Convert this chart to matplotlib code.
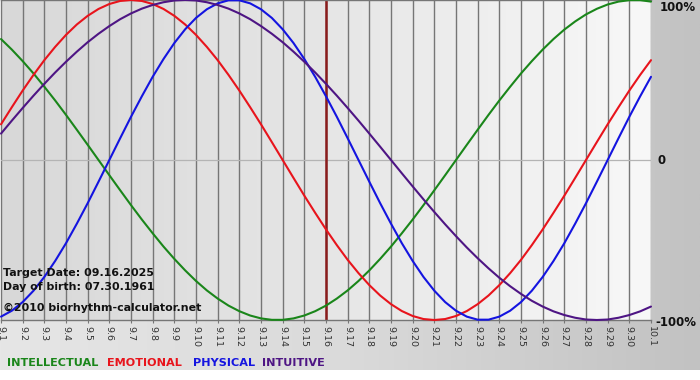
import numpy as np
import matplotlib
matplotlib.use("Agg")
import matplotlib.pyplot as plt
from matplotlib.colors import LinearSegmentedColormap
from matplotlib.transforms import blended_transform_factory

# ---- data (values sampled every half day from 9.1 to 10.1) ----
day_labels = ["9.%d" % d for d in range(1, 31)] + ["10.1"]

intellectual = [0.756, 0.690, 0.618, 0.541, 0.458, 0.372, 0.282, 0.189, 0.095, 0.000,
                -0.095, -0.189, -0.282, -0.372, -0.458, -0.541, -0.618, -0.690, -0.756, -0.815,
                -0.866, -0.910, -0.945, -0.972, -0.990, -0.999, -0.999, -0.990, -0.972, -0.945,
                -0.910, -0.866, -0.815, -0.756, -0.690, -0.618, -0.541, -0.458, -0.372, -0.282,
                -0.189, -0.095, 0.000, 0.095, 0.189, 0.282, 0.372, 0.458, 0.541, 0.618,
                0.690, 0.756, 0.815, 0.866, 0.910, 0.945, 0.972, 0.990, 0.999, 0.999, 0.990]

emotional = [0.223, 0.330, 0.434, 0.532, 0.624, 0.707, 0.782, 0.847, 0.901, 0.944,
             0.975, 0.994, 1.000, 0.994, 0.975, 0.944, 0.901, 0.847, 0.782, 0.707,
             0.624, 0.532, 0.434, 0.330, 0.223, 0.112, 0.000, -0.112, -0.223, -0.330,
             -0.434, -0.532, -0.624, -0.707, -0.782, -0.847, -0.901, -0.944, -0.975, -0.994,
             -1.000, -0.994, -0.975, -0.944, -0.901, -0.847, -0.782, -0.707, -0.624, -0.532,
             -0.434, -0.330, -0.223, -0.112, 0.000, 0.112, 0.223, 0.330, 0.434, 0.532, 0.624]

physical = [-0.979, -0.942, -0.888, -0.817, -0.731, -0.631, -0.520, -0.398, -0.270, -0.136,
            0.000, 0.136, 0.270, 0.398, 0.520, 0.631, 0.731, 0.817, 0.888, 0.942,
            0.979, 0.998, 0.998, 0.979, 0.942, 0.888, 0.817, 0.731, 0.631, 0.520,
            0.398, 0.270, 0.136, 0.000, -0.136, -0.270, -0.398, -0.520, -0.631, -0.731,
            -0.817, -0.888, -0.942, -0.979, -0.998, -0.998, -0.979, -0.942, -0.888, -0.817,
            -0.731, -0.631, -0.520, -0.398, -0.270, -0.136, 0.000, 0.136, 0.270, 0.398, 0.520]

intuitive = [0.165, 0.246, 0.325, 0.402, 0.476, 0.547, 0.614, 0.677, 0.736, 0.789,
             0.837, 0.880, 0.916, 0.946, 0.969, 0.986, 0.997, 1.000, 0.997, 0.986,
             0.969, 0.946, 0.916, 0.880, 0.837, 0.789, 0.736, 0.677, 0.614, 0.547,
             0.476, 0.402, 0.325, 0.246, 0.165, 0.083, 0.000, -0.083, -0.165, -0.246,
             -0.325, -0.402, -0.476, -0.547, -0.614, -0.677, -0.736, -0.789, -0.837, -0.880,
             -0.916, -0.946, -0.969, -0.986, -0.997, -1.000, -0.997, -0.986, -0.969, -0.946, -0.916]

target_label = "9.16"
info_lines = ["Target Date: 09.16.2025", "Day of birth: 07.30.1961",
              "\u00a92010 biorhythm-calculator.net"]
legend_names = ["INTELLECTUAL", "EMOTIONAL", "PHYSICAL", "INTUITIVE"]
y_labels = ["100%", "0", "-100%"]

# ---- styling ----
c_int = "#1a861a"
c_emo = "#e8141c"
c_phy = "#1414e0"
c_itu = "#4e1584"

W, H = 700, 380
fig = plt.figure(figsize=(W / 100, H / 100), dpi=100)
fig.patch.set_facecolor("white")

# figure background gradient (outer frame)
bg = fig.add_axes([0, 10 / H, 1, (H - 10) / H], zorder=-10)
bg_cmap = LinearSegmentedColormap.from_list("bg", ["#e6e6e6", "#dadada", "#c2c2c2"])
bg.imshow(np.linspace(0, 1, 256)[None, :], cmap=bg_cmap, aspect="auto",
          extent=[0, 1, 0, 1])
bg.set_axis_off()

ax = fig.add_axes([1 / W, 60 / H, 650 / W, 320 / H])
ax.set_xlim(0, 30)
ax.set_ylim(-1, 1)
plot_cmap = LinearSegmentedColormap.from_list("pl", ["#d8d8d8", "#e6e6e6", "#f8f8f8"])
ax.imshow(np.linspace(0, 1, 256)[None, :], cmap=plot_cmap, aspect="auto",
          extent=[0, 30, -1, 1], zorder=0)

days = np.arange(len(day_labels))
for d in days:
    ax.axvline(d, color="#767676", lw=1.0, zorder=1)
ax.axhline(0, color="#b4b4b4", lw=0.9, zorder=1)

tidx = day_labels.index(target_label)
ax.axvline(days[tidx], color="#8a1c1c", lw=1.8, zorder=2)

x = np.arange(len(physical)) / 2.0
for vals, col in [(intellectual, c_int), (emotional, c_emo), (physical, c_phy), (intuitive, c_itu)]:
    ax.plot(x, vals, color=col, lw=1.5, zorder=3, clip_on=False, solid_capstyle="round")

for s in ["left", "right"]:
    ax.spines[s].set_visible(False)
for s in ["top", "bottom"]:
    ax.spines[s].set_color("#767676")
    ax.spines[s].set_linewidth(1.0)

ax.set_yticks([])
ax.set_xticks(days)
ax.set_xticklabels(day_labels, rotation=270, fontsize=6.8, color="#333333")
ax.tick_params(axis="x", length=2.5, width=0.8, color="#767676", pad=1.5)

tr = blended_transform_factory(ax.transAxes, ax.transData)
for lab, yv, dx, dy in [(y_labels[0], 1, 6, -5.5), (y_labels[1], 0, 5, -0.5), (y_labels[2], -1, 3, -1.5)]:
    ax.annotate(lab, xy=(1, yv), xycoords=tr, xytext=(dx, dy), textcoords="offset points",
                ha="left", va="center", fontsize=8.5, fontweight="bold", color="#111111",
                annotation_clip=False)

for line, ypx in zip(info_lines, [276, 290, 311]):
    fig.text(3 / W, 1 - ypx / H, line, fontsize=7.9, fontweight="bold", color="#111111",
             ha="left", va="baseline")

for name, col, xpx in zip(legend_names, [c_int, c_emo, c_phy, c_itu], [7, 107, 193, 262]):
    fig.text(xpx / W, 1 - 366 / H, name, fontsize=8.1, fontweight="bold", color=col,
             ha="left", va="baseline")

fig.savefig("out.png", dpi=100)
